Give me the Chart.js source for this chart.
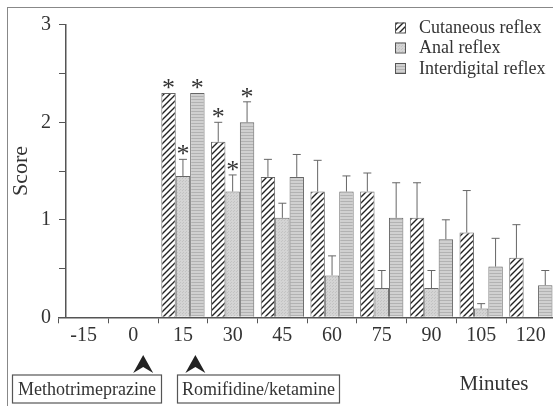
<!DOCTYPE html>
<html>
<head>
<meta charset="utf-8">
<script src="https://cdn.jsdelivr.net/npm/chart.js@4"></script>
<style>
html, body { margin: 0; padding: 0; background: #fff; overflow: hidden; }
#wrap { position: relative; width: 558px; height: 406px; }
#frame { position: absolute; left: 7px; top: 7px; width: 600px; height: 500px; border: 1.5px solid #888; }
#chart { position: absolute; left: 0; top: 0; }
</style>
</head>
<body>
<div id="wrap">
  <div id="frame"></div>
  <canvas id="chart" width="558" height="406"></canvas>
</div>
<script>
"use strict"

// data
const minutes = ['-15', '0', '15', '30', '45', '60', '75', '90', '105', '120'];

const cutaneous    = [null, null, 2.30, 1.80, 1.44, 1.29, 1.29, 1.02, 0.87, 0.61];
const cutaneousErr = [null, null, null, 2.00, 1.62, 1.61, 1.48, 1.38, 1.30, 0.95];
const cutaneousSig = [false, false, true, true, false, false, false, false, false, false];

const anal    = [null, null, 1.45, 1.29, 1.02, 0.43, 0.30, 0.30, 0.09, null];
const analErr = [null, null, 1.62, 1.46, 1.17, 0.63, 0.48, 0.48, 0.14, null];
const analSig = [false, false, true, true, false, false, false, false, false, false];

const interdigital    = [null, null, 2.30, 2.00, 1.44, 1.29, 1.02, 0.80, 0.52, 0.33];
const interdigitalErr = [null, null, null, 2.21, 1.67, 1.45, 1.38, 1.00, 0.81, 0.48];
const interdigitalSig = [false, false, true, true, false, false, false, false, false, false];

const scoreTicks = [0, 1, 2, 3];

const serif = "'Liberation Serif', 'DejaVu Serif', serif";
Chart.defaults.font.family = serif;
Chart.defaults.color = '#333';

// fills
function makePattern(kind) {
    const c = document.createElement('canvas');
    const g = c.getContext('2d');
    if (kind === 'hatch') {
        c.width = 6; c.height = 6;
        g.fillStyle = '#fff';
        g.fillRect(0, 0, 6, 6);
        g.strokeStyle = '#222';
        g.lineWidth = 1.4;
        g.beginPath();
        g.moveTo(-1, 7); g.lineTo(7, -1);
        g.moveTo(-4, 4); g.lineTo(4, -4);
        g.moveTo(2, 10); g.lineTo(10, 2);
        g.stroke();
    } else if (kind === 'dots') {
        c.width = 3; c.height = 3;
        g.fillStyle = '#d4d4d4';
        g.fillRect(0, 0, 3, 3);
        g.fillStyle = '#c2c2c2';
        g.fillRect(0, 0, 1, 1);
        g.fillRect(2, 1, 1, 1);
    } else {
        c.width = 4; c.height = 3;
        g.fillStyle = '#d0d0d0';
        g.fillRect(0, 0, 4, 3);
        g.fillStyle = '#b2b2b2';
        g.fillRect(0, 0, 4, 1);
    }
    return g.createPattern(c, 'repeat');
}

const hatchFill = makePattern('hatch');
const analFill = makePattern('dots');
const interFill = makePattern('lines');

const errs = [cutaneousErr, analErr, interdigitalErr];
const sigs = [cutaneousSig, analSig, interdigitalSig];

const extras = {
    id: 'extras',
    afterDatasetsDraw(chart) {
        const ctx = chart.ctx;
        const y = chart.scales.y;
        const x = chart.scales.x;
        ctx.save();

        // error bars and asterisks
        chart.data.datasets.forEach((ds, i) => {
            const meta = chart.getDatasetMeta(i);
            meta.data.forEach((bar, j) => {
                if (ds.data[j] == null) return;
                let top = bar.y;
                const e = errs[i][j];
                if (e != null) {
                    const ey = y.getPixelForValue(e);
                    ctx.strokeStyle = '#666';
                    ctx.lineWidth = 1;
                    ctx.beginPath();
                    ctx.moveTo(bar.x, bar.y);
                    ctx.lineTo(bar.x, ey);
                    ctx.moveTo(bar.x - 4, ey);
                    ctx.lineTo(bar.x + 4, ey);
                    ctx.stroke();
                    top = ey;
                }
                if (sigs[i][j]) {
                    ctx.fillStyle = '#333';
                    ctx.font = '26px ' + serif;
                    ctx.textAlign = 'center';
                    ctx.textBaseline = 'alphabetic';
                    ctx.fillText('*', bar.x, top + 3);
                }
            });
        });

        // y tick labels, left of the axis line
        const axisX = x.getPixelForValue(chart.options.scales.y.position.x);
        ctx.fillStyle = '#333';
        ctx.font = '20px ' + serif;
        ctx.textAlign = 'right';
        ctx.textBaseline = 'middle';
        scoreTicks.forEach(v => {
            ctx.fillText(String(v), axisX - 15, y.getPixelForValue(v));
        });

        // legend
        const lx = 395, ly = [27.5, 47.5, 68];
        chart.data.datasets.forEach((ds, i) => {
            ctx.fillStyle = ds.backgroundColor;
            ctx.fillRect(lx, ly[i] - 5, 10, 10);
            ctx.strokeStyle = '#555';
            ctx.lineWidth = 1;
            ctx.strokeRect(lx + 0.5, ly[i] - 4.5, 10, 10);
            ctx.fillStyle = '#333';
            ctx.font = '18px ' + serif;
            ctx.textAlign = 'left';
            ctx.textBaseline = 'middle';
            ctx.fillText(ds.label, 419, ly[i] + 1);
        });

        // axis titles
        ctx.fillStyle = '#333';
        ctx.font = '22px ' + serif;
        ctx.textAlign = 'center';
        ctx.textBaseline = 'middle';
        ctx.save();
        ctx.translate(21, 171);
        ctx.rotate(-Math.PI / 2);
        ctx.fillText('Score', 0, 0);
        ctx.restore();
        ctx.font = '21px ' + serif;
        ctx.fillText('Minutes', 494, 384);

        // drug arrows and boxes
        const drugs = [
            {name: 'Methotrimeprazine', at: 1.2, box: [12.5, 375, 149, 28]},
            {name: 'Romifidine/ketamine', at: 2.25, box: [177.5, 375, 162, 28]}
        ];
        drugs.forEach(d => {
            const ax = x.getPixelForValue(d.at);
            ctx.fillStyle = '#222';
            ctx.beginPath();
            ctx.moveTo(ax, 355);
            ctx.lineTo(ax + 10, 373);
            ctx.lineTo(ax, 367);
            ctx.lineTo(ax - 10, 373);
            ctx.closePath();
            ctx.fill();
            ctx.strokeStyle = '#555';
            ctx.lineWidth = 1.2;
            ctx.strokeRect(d.box[0], d.box[1], d.box[2], d.box[3]);
            ctx.fillStyle = '#333';
            ctx.font = '18px ' + serif;
            ctx.textAlign = 'center';
            ctx.textBaseline = 'middle';
            ctx.fillText(d.name, d.box[0] + d.box[2] / 2, d.box[1] + d.box[3] / 2 + 1);
        });

        ctx.restore();
    }
};

const cty = document.getElementById('chart');

const barChart = new Chart(cty, {
    type: 'bar',
    data: {
        labels: minutes,
        datasets: [{
            label: 'Cutaneous reflex',
            data: cutaneous,
            backgroundColor: hatchFill
        }, {
            label: 'Anal reflex',
            data: anal,
            backgroundColor: analFill
        }, {
            label: 'Interdigital reflex',
            data: interdigital,
            backgroundColor: interFill
        }]
    },
    options: {
        responsive: false,
        animation: false,
        layout: {
            padding: {left: 58.7, top: 24.8, right: 2.3, bottom: 0}
        },
        datasets: {
            bar: {
                borderColor: '#666',
                borderWidth: 1,
                categoryPercentage: 0.87,
                barPercentage: 1.0
            }
        },
        plugins: {
            legend: {display: false},
            tooltip: {enabled: false}
        },
        scales: {
            x: {
                offset: true,
                grid: {
                    offset: true,
                    drawOnChartArea: false,
                    tickLength: 6,
                    color: '#555'
                },
                border: {color: '#555', width: 1.5},
                ticks: {
                    padding: 0,
                    maxRotation: 0,
                    autoSkip: false,
                    font: {size: 20},
                    color: '#333'
                },
                afterFit: s => { s.height = 406 - 317.3; }
            },
            y: {
                position: {x: -0.353},
                min: 0,
                max: 3,
                grid: {
                    drawOnChartArea: false,
                    tickLength: 6,
                    color: '#555'
                },
                border: {color: '#555', width: 1.5},
                ticks: {
                    stepSize: 0.5,
                    // labels are drawn by the plugin, left of the shifted axis
                    callback: () => ''
                }
            }
        }
    },
    plugins: [extras]
});
</script>
</body>
</html>
